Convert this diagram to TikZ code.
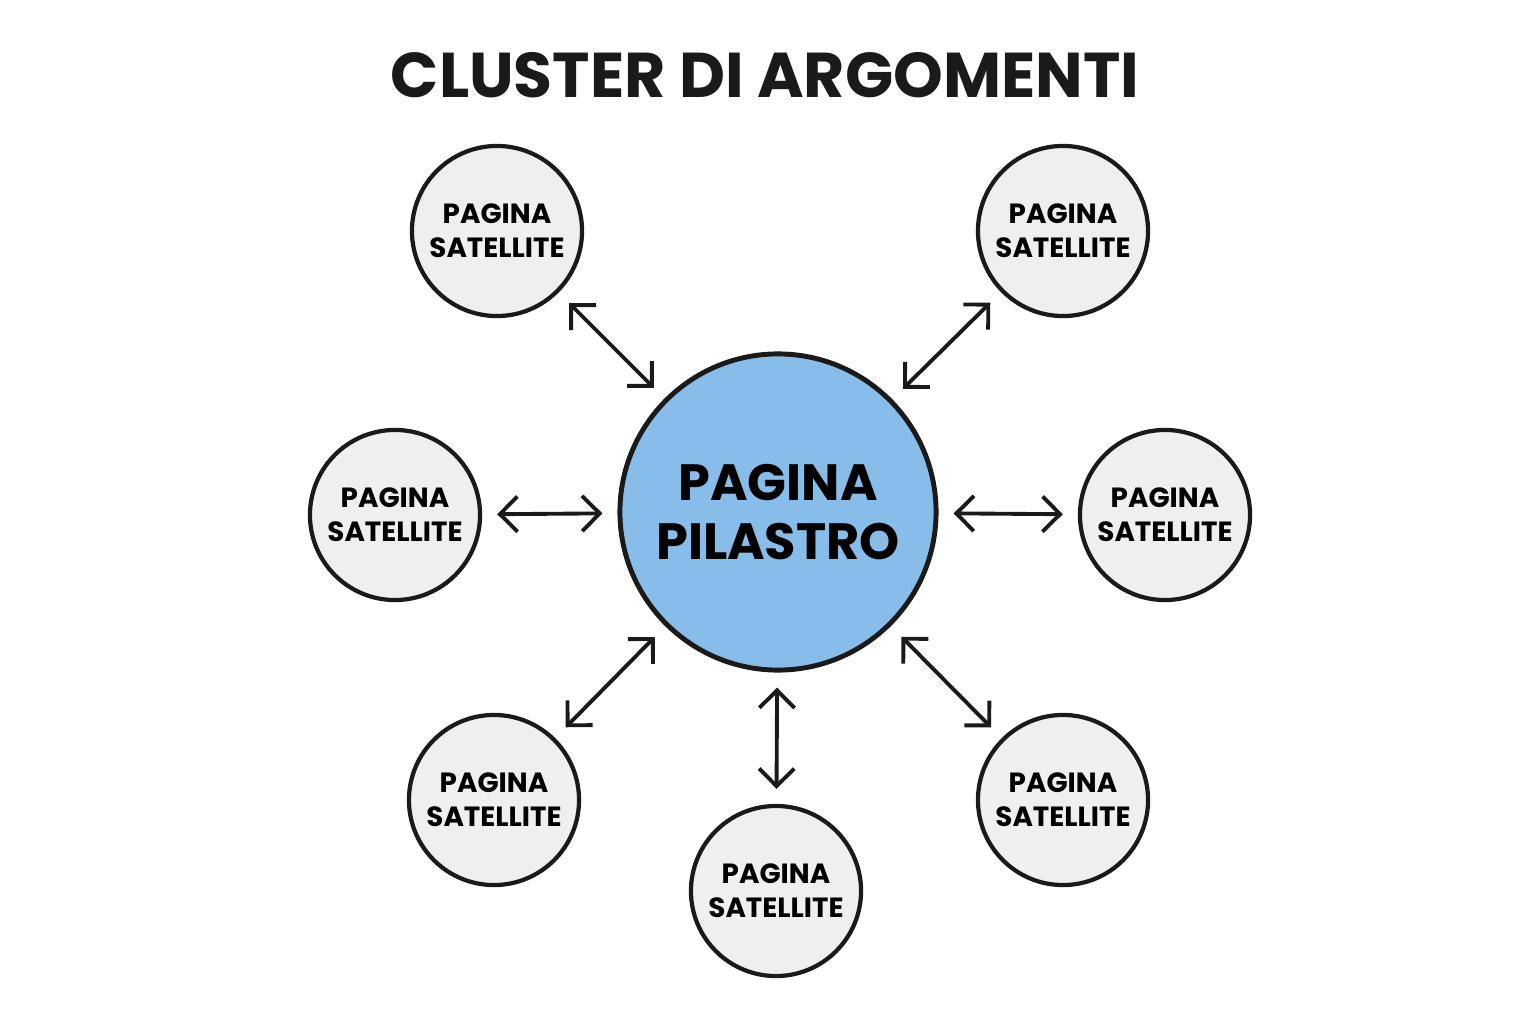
\documentclass[tikz,border=0pt]{standalone}
\usepackage{fontspec}
\setmainfont{Poppins}
\usetikzlibrary{positioning, arrows.meta}
\definecolor{pillarblue}{HTML}{88BDEA}
\definecolor{satgray}{HTML}{EFEFEF}
\definecolor{inkdark}{HTML}{1A1A1A}

\begin{document}
\begin{tikzpicture}[
  x=0.01cm, y=-0.01cm,
  pillar/.style={draw=inkdark, circle, line width=1.4pt, fill=pillarblue, inner sep=1pt,
                 minimum size=3.16cm, align=center, font=\fontsize{14.5}{17}\selectfont\bfseries},
  sat/.style={draw=inkdark, circle, line width=1.2pt, fill=satgray, inner sep=0pt,
              minimum size=1.7cm, align=center, font=\fontsize{7.9}{9.6}\selectfont\bfseries},
  link/.style={{Straight Barb[length=5pt]}-{Straight Barb[length=5pt]}, line width=1.1pt,
               draw=inkdark, shorten >=0.15cm, shorten <=0.15cm},
]
  \useasboundingbox (0,0) rectangle (1536,1024);
  % Title
  \node[font=\fontsize{18}{21}\selectfont\bfseries, text=inkdark] (title) at (765,75) {CLUSTER DI ARGOMENTI};
  % Pillar page
  \node[pillar] (pil) at (778,512) {PAGINA\\PILASTRO};
  % Satellite pages
  \node[sat] (tl) at (497,231) {PAGINA\\SATELLITE};
  \node[sat] (tr) at (1063,231) {PAGINA\\SATELLITE};
  \node[sat] (l) at (395,515) {PAGINA\\SATELLITE};
  \node[sat] (r) at (1165,515) {PAGINA\\SATELLITE};
  \node[sat] (bl) at (494,800) {PAGINA\\SATELLITE};
  \node[sat] (br) at (1063,800) {PAGINA\\SATELLITE};
  \node[sat] (b) at (776,891) {PAGINA\\SATELLITE};
  % Links
  \foreach \s in {tl,tr,l,r,bl,br,b}
    \draw[link] (\s) -- (pil);
\end{tikzpicture}
\end{document}
